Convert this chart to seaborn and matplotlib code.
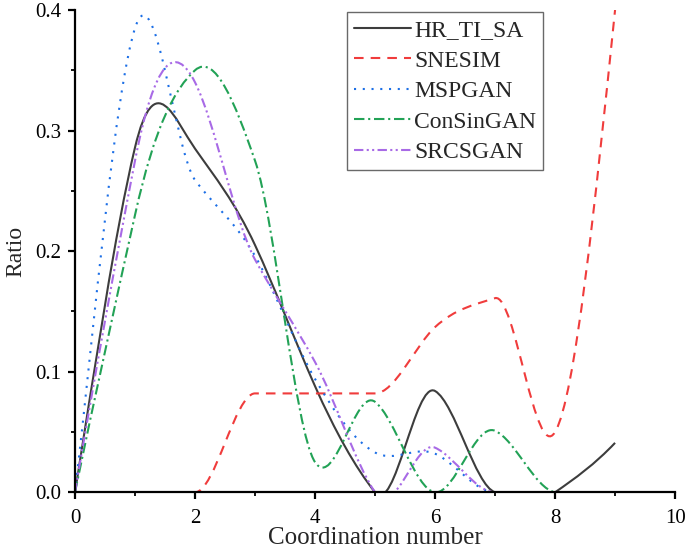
import numpy as np
import matplotlib
matplotlib.use("Agg")
import matplotlib.pyplot as plt
import seaborn as sns
from matplotlib.path import Path
from matplotlib.patches import PathPatch
from matplotlib.lines import Line2D

# --- data (values read at integer coordination numbers) ---
coord = [0, 1, 2, 3, 4, 5, 6, 7, 8, 9]
hr_ti_sa = [0.0, 0.286, 0.285, 0.205, 0.088, 0.0, 0.084, 0.0, 0.0, 0.041]
snesim = [0.0, 0.0, 0.0, 0.082, 0.082, 0.082, 0.137, 0.161, 0.050, 0.400]
mspgan = [0.0, 0.385, 0.259, 0.196, 0.094, 0.033, 0.032, 0.0, 0.0, 0.0]
consingan = [0.0, 0.230, 0.350, 0.275, 0.025, 0.075, 0.0, 0.051, 0.0, 0.0]
srcsgan = [0.0, 0.275, 0.340, 0.193, 0.108, 0.0, 0.037, 0.0, 0.0, 0.0]

names = ["HR_TI_SA", "SNESIM", "MSPGAN", "ConSinGAN", "SRCSGAN"]
series = [hr_ti_sa, snesim, mspgan, consingan, srcsgan]
colors = ["#3d3d3d", "#f03c3c", "#1c6fe6", "#22a256", "#a86ae6"]
styles = ["-", (0, (4.6, 3.4)), (0, (1, 3.2)), (0, (5, 1.8, 1, 1.8)),
          (0, (4.5, 1.6, 1, 1.6, 1, 1.6))]


def akima_slopes(x, y, k_start=0.1, k_end=0.4):
    """Akima-type tangents at each knot (like Origin's spline connection)."""
    x = np.asarray(x, float)
    y = np.asarray(y, float)
    m = np.diff(y) / np.diff(x)
    d0, d1 = m[0] - m[1], m[-1] - m[-2]
    em = np.concatenate([[m[0] + 2 * k_start * d0, m[0] + k_start * d0], m,
                         [m[-1] + k_end * d1, m[-1] + 2 * k_end * d1]])
    dm = np.abs(np.diff(em))
    t = np.empty(len(x))
    for i in range(len(x)):
        wa, wb = dm[i + 2], dm[i]
        if wa + wb == 0:
            t[i] = 0.5 * (em[i + 1] + em[i + 2])
        else:
            t[i] = (wa * em[i + 1] + wb * em[i + 2]) / (wa + wb)
    return t


def spline_path(x, y):
    """Cubic Hermite segments written as Bezier curves."""
    t = akima_slopes(x, y)
    verts = [(x[0], y[0])]
    codes = [Path.MOVETO]
    for i in range(len(x) - 1):
        h = x[i + 1] - x[i]
        verts += [(x[i] + h / 3, y[i] + h * t[i] / 3),
                  (x[i + 1] - h / 3, y[i + 1] - h * t[i + 1] / 3),
                  (x[i + 1], y[i + 1])]
        codes += [Path.CURVE4] * 3
    return Path(verts, codes)


sns.set_style("ticks")
plt.rcParams["font.family"] = ["Liberation Serif", "DejaVu Serif"]

fig = plt.figure(figsize=(6.85, 5.49), dpi=100)
ax = fig.add_axes([0.1095, 0.1033, 0.876, 0.8785])

handles = []
for name, vals, col, ls in zip(names, series, colors, styles):
    patch = PathPatch(spline_path(coord, vals), fill=False, edgecolor=col,
                      linestyle=ls, linewidth=1.5, capstyle="butt")
    ax.add_patch(patch)
    handles.append(Line2D([], [], color=col, linestyle=ls, linewidth=1.5, label=name))

ax.set_xlim(0, 10)
ax.set_ylim(0, 0.4)
ax.set_xticks([0, 2, 4, 6, 8, 10])
ax.set_xticks([1, 3, 5, 7, 9], minor=True)
ax.set_yticks([0.0, 0.1, 0.2, 0.3, 0.4])
ax.set_yticks([0.05, 0.15, 0.25, 0.35], minor=True)
ax.set_yticklabels(["0.0", "0.1", "0.2", "0.3", "0.4"])
sns.despine(ax=ax)
for s in ["left", "bottom"]:
    ax.spines[s].set_linewidth(1.6)
    ax.spines[s].set_color("black")
ax.tick_params(which="major", direction="out", length=5, width=1.6,
               labelsize=15, colors="black")
ax.tick_params(which="minor", direction="out", length=3, width=1.3, colors="black")
ax.tick_params(axis="x", which="major", pad=7)
ax.tick_params(axis="y", which="major", pad=5)

ax.set_xlabel("Coordination number", fontsize=18, labelpad=-1)
ax.set_ylabel("Ratio", fontsize=17, labelpad=6)

leg = ax.legend(handles=handles, loc="upper left", bbox_to_anchor=(0.453, 0.995),
                borderaxespad=0, fontsize=17, frameon=True, fancybox=False,
                handlelength=2.4, handletextpad=0.15, labelspacing=0.38,
                borderpad=0.3)
leg.get_frame().set_edgecolor("#444444")
leg.get_frame().set_linewidth(1.0)

fig.savefig("out.png", dpi=100)
